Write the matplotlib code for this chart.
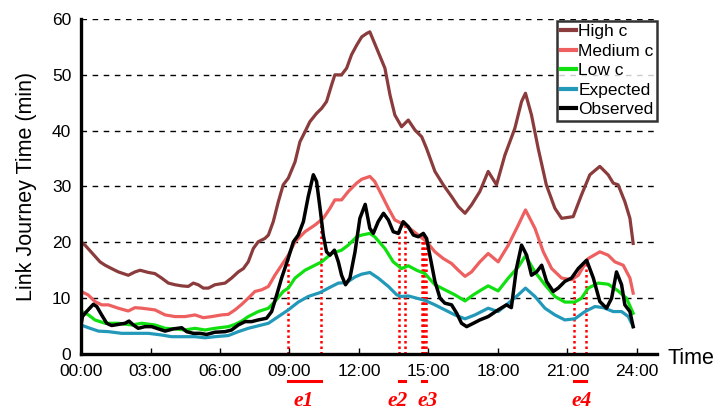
import numpy as np
import matplotlib
matplotlib.use("Agg")
import matplotlib.pyplot as plt

plt.rcParams['font.family'] = ['Liberation Sans', 'DejaVu Sans']

# travel time curves over one day (hour of day, minutes)
high_h = [0.00, 0.17, 0.82, 1.04, 1.32, 1.61, 2.04, 2.33, 2.55, 2.91, 3.19, 3.48, 3.77, 4.06,
          4.35, 4.63, 4.85, 5.06, 5.28, 5.50, 5.78, 6.22, 6.50, 6.79, 7.01, 7.22, 7.44, 7.65,
          7.94, 8.09, 8.30, 8.52, 8.73, 8.95, 9.24, 9.45, 9.67, 9.88, 10.17, 10.39, 10.60,
          10.82, 10.96, 11.25, 11.47, 11.68, 11.90, 12.12, 12.33, 12.47, 12.62, 12.83, 13.12,
          13.34, 13.55, 13.84, 14.13, 14.42, 14.71, 14.92, 15.28, 15.64, 16.00, 16.29, 16.58,
          16.86, 17.22, 17.58, 17.94, 18.30, 18.73, 19.02, 19.19, 19.45, 19.74, 20.09, 20.46,
          20.75, 21.25, 21.61, 21.97, 22.40, 22.76, 22.98, 23.19, 23.48, 23.70, 23.84]
high_c = [20.1, 19.5, 16.5, 15.9, 15.3, 14.7, 14.1, 14.7, 15.0, 14.6, 14.4, 13.6, 12.7, 12.4,
          12.2, 12.1, 12.7, 12.4, 11.8, 11.8, 12.4, 12.7, 13.6, 14.7, 15.3, 16.5, 18.9, 20.1,
          20.7, 21.3, 23.7, 27.3, 30.3, 31.5, 34.4, 38.0, 39.8, 41.6, 43.1, 44.0, 45.2,
          48.2, 50.0, 50.0, 51.2, 53.6, 55.3, 56.8, 57.4, 57.7, 56.2, 54.1, 51.2,
          46.4, 42.8, 40.7, 41.9, 40.1, 38.9, 36.8, 32.7, 30.3, 28.2, 26.4, 25.2,
          26.7, 29.1, 32.7, 30.3, 35.6, 40.4, 45.2, 46.7, 42.8, 36.8, 30.3, 26.1,
          24.3, 24.6, 28.5, 32.1, 33.6, 32.1, 30.6, 30.3, 27.3, 24.3, 19.8]

med_h = [0.00, 0.30, 0.60, 0.89, 1.18, 1.61, 2.04, 2.33, 2.62, 3.19, 3.63, 4.06, 4.49, 4.92,
         5.28, 5.64, 6.07, 6.36, 6.65, 6.94, 7.22, 7.51, 7.80, 8.09, 8.37, 8.66, 8.95, 9.24,
         9.67, 10.10, 10.46, 10.75, 10.96, 11.25, 11.54, 11.90, 12.12, 12.47, 12.68, 12.98,
         13.27, 13.55, 13.84, 14.19, 14.56, 14.92, 15.28, 15.64, 16.00, 16.29, 16.58, 16.86,
         17.22, 17.58, 18.01, 18.45, 18.88, 19.19, 19.60, 19.96, 20.32, 20.75, 21.18, 21.47,
         21.90, 22.40, 22.76, 23.05, 23.41, 23.70, 23.84]
med_c = [11.2, 10.6, 9.4, 8.8, 8.8, 8.2, 7.7, 8.3, 8.2, 7.9, 7.0, 6.7, 6.7, 7.0,
         6.5, 6.7, 7.0, 7.1, 7.9, 8.9, 10.0, 11.2, 11.5, 12.1, 14.1, 15.9, 17.7, 20.1,
         21.9, 23.1, 24.3, 26.1, 27.6, 27.6, 29.1, 30.6, 31.3, 31.8, 30.9, 28.5,
         26.1, 24.0, 23.4, 22.5, 21.3, 20.1, 18.3, 17.1, 16.2, 15.0, 13.9, 14.7,
         16.5, 18.0, 16.5, 19.5, 23.1, 25.8, 22.5, 18.3, 15.3, 13.6, 13.3, 14.1,
         17.1, 18.3, 17.7, 16.5, 15.9, 13.6, 10.9]

low_h = [0.00, 0.32, 0.60, 1.04, 1.61, 2.19, 2.62, 3.19, 3.63, 4.06, 4.49, 4.92, 5.35, 5.78,
         6.36, 6.65, 6.94, 7.22, 7.65, 8.09, 8.37, 8.73, 8.95, 9.24, 9.67, 10.10, 10.39,
         10.82, 11.25, 11.54, 11.90, 12.12, 12.47, 12.68, 13.12, 13.48, 13.84, 14.13, 14.49,
         14.85, 15.28, 15.71, 16.14, 16.58, 16.94, 17.29, 17.58, 18.01, 18.45, 18.88, 19.19,
         19.60, 20.03, 20.46, 20.89, 21.32, 21.61, 21.90, 22.33, 22.76, 23.19, 23.55, 23.84]
low_c = [7.7, 7.0, 6.1, 5.5, 5.5, 5.2, 5.5, 5.2, 4.6, 4.5, 4.3, 4.6, 4.3, 4.6,
         4.9, 5.3, 5.9, 6.7, 7.6, 8.2, 9.4, 11.2, 11.8, 13.6, 15.0, 15.9, 16.5,
         18.0, 18.6, 19.5, 21.0, 21.3, 21.6, 21.0, 18.9, 16.5, 15.3, 15.8, 15.0,
         14.4, 12.4, 11.5, 10.6, 9.5, 10.6, 11.5, 12.2, 11.3, 13.6, 15.6, 17.6,
         14.7, 12.4, 10.3, 9.3, 9.3, 10.0, 11.8, 12.7, 12.5, 11.3, 10.0, 7.3]

exp_h = [0.00, 0.32, 0.75, 1.18, 1.76, 2.33, 2.91, 3.48, 3.91, 4.49, 4.92, 5.35, 5.78, 6.36,
         6.79, 7.22, 7.80, 8.09, 8.52, 8.95, 9.38, 9.81, 10.32, 10.68, 11.11, 11.47, 11.83,
         12.12, 12.47, 12.83, 13.27, 13.63, 13.84, 14.13, 14.49, 14.85, 15.28, 15.71, 16.14,
         16.58, 17.01, 17.58, 18.01, 18.45, 18.88, 19.19, 19.60, 20.03, 20.46, 20.89, 21.32,
         21.76, 22.19, 22.55, 22.98, 23.34, 23.63, 23.84]
expected = [5.2, 4.7, 4.1, 4.0, 3.7, 3.7, 3.7, 3.4, 3.1, 3.1, 3.1, 2.9, 3.1, 3.3,
            4.0, 4.6, 5.2, 5.5, 6.7, 7.9, 9.3, 10.3, 11.0, 11.8, 12.7, 12.8, 13.8,
            14.3, 14.6, 13.6, 12.1, 10.6, 10.3, 10.4, 10.0, 9.6, 8.8, 7.9, 7.0,
            6.3, 7.0, 8.2, 7.6, 9.1, 10.6, 11.8, 10.3, 8.2, 7.0, 6.1, 6.3,
            7.6, 8.5, 8.3, 7.6, 7.6, 6.7, 4.9]

obs_h = [0.00, 0.06, 0.24, 0.53, 0.68, 0.89, 1.11, 1.32, 1.61, 1.90, 2.07, 2.26, 2.47, 2.76,
         3.05, 3.34, 3.63, 3.99, 4.35, 4.56, 4.85, 5.14, 5.42, 5.78, 6.22, 6.50, 6.79, 7.08,
         7.37, 7.65, 8.01, 8.23, 8.45, 8.66, 8.92, 9.17, 9.38, 9.60, 9.81, 10.03, 10.17,
         10.32, 10.46, 10.60, 10.75, 10.94, 11.11, 11.25, 11.42, 11.61, 11.83, 12.04, 12.27,
         12.47, 12.62, 12.83, 13.06, 13.27, 13.48, 13.70, 13.91, 14.13, 14.35, 14.56, 14.78,
         14.92, 15.06, 15.28, 15.50, 15.71, 16.00, 16.22, 16.43, 16.65, 16.94, 17.22, 17.58,
         18.01, 18.37, 18.58, 18.80, 19.02, 19.24, 19.45, 19.67, 19.89, 20.10, 20.39, 20.60,
         20.89, 21.18, 21.47, 21.83, 22.12, 22.40, 22.69, 22.91, 23.12, 23.34, 23.48, 23.70,
         23.84]
observed = [5.2, 6.7, 7.6, 8.9, 8.5, 7.0, 5.5, 5.1, 5.3, 5.5, 5.9, 5.2, 4.6, 4.9,
            4.9, 4.5, 4.1, 4.5, 4.7, 4.0, 3.7, 3.7, 3.5, 3.9, 4.0, 4.3, 5.2, 5.8,
            5.8, 6.1, 6.4, 7.6, 10.6, 13.6, 16.8, 20.1, 21.3, 23.7, 28.2, 32.1, 30.9,
            26.1, 21.3, 18.3, 17.7, 18.6, 16.5, 14.1, 12.4, 13.6, 18.3, 24.3, 26.8,
            22.5, 21.6, 23.7, 25.2, 24.0, 21.9, 21.6, 23.7, 22.8, 21.3, 21.0, 21.6,
            20.7, 17.7, 13.0, 10.0, 9.1, 8.8, 7.3, 5.5, 4.9, 5.5, 6.1, 6.7,
            7.9, 8.8, 8.3, 15.3, 19.5, 17.7, 14.1, 14.7, 15.9, 13.0, 11.2, 11.8,
            13.0, 13.6, 15.3, 16.8, 13.6, 9.4, 8.2, 10.0, 14.7, 12.4, 8.8, 7.6,
            4.9]

# incident windows marked under the axis
event_names = ['e1', 'e2', 'e3', 'e4']
event_times = [[8.92, 10.36], [13.74, 13.99], [14.71, 14.77, 14.83, 14.88], [21.29, 21.80]]
label_hours = [9.6, 13.65, 14.95, 21.6]

tick_hours = [0, 3, 6, 9, 12, 15, 18, 21, 24]
tick_labels = ['%02d:00' % h for h in tick_hours]

fig = plt.figure(figsize=(7.19, 4.11), dpi=100)
ax = fig.add_axes([0.1127, 0.1387, 0.8011, 0.8151])

ax.plot(high_h, high_c, color='#8b3b3b', lw=2.3, label='High c')
ax.plot(med_h, med_c, color='#ee5f5f', lw=2.3, label='Medium c')
ax.plot(low_h, low_c, color='#10e010', lw=2.3, label='Low c')
ax.plot(exp_h, expected, color='#2299b9', lw=2.3, label='Expected')
ax.plot(obs_h, observed, color='black', lw=2.5, label='Observed')

for name, times, lx in zip(event_names, event_times, label_hours):
    for t in times:
        top = np.interp(t, obs_h, observed)
        ax.plot([t, t], [0, top], color='red', lw=1.8, ls=(0, (1, 1.2)), zorder=1)
    ax.plot([times[0], times[-1]], [-4.85, -4.85], color='red', lw=2.2,
            solid_capstyle='projecting', clip_on=False)
    ax.text(lx, -8.5, name, color='red', fontsize=15.5, fontweight='bold', fontstyle='italic',
            family=['Liberation Serif', 'DejaVu Serif'], ha='center', va='center')

ax.set_xlim(0, 24.87)
ax.set_ylim(0, 60)
ax.set_xticks(tick_hours)
ax.set_xticklabels(tick_labels)
ax.set_yticks(range(0, 61, 10))
ax.tick_params(axis='x', direction='in', length=4, width=1, labelsize=12.5, pad=7)
ax.tick_params(axis='y', length=0, labelsize=12.5, pad=7)

for y in range(10, 61, 10):
    ax.axhline(y, color='black', lw=1, ls=(0, (4, 4)), zorder=0)

ax.spines['top'].set_visible(False)
ax.spines['right'].set_visible(False)
ax.spines['left'].set_linewidth(2.4)
ax.spines['bottom'].set_linewidth(2.4)

ax.set_ylabel('Link Journey Time (min)', fontsize=15.5, labelpad=11)
ax.text(1.019, -0.012, 'Time', transform=ax.transAxes, fontsize=15.5, ha='left', va='center')

leg = ax.legend(loc='upper right', bbox_to_anchor=(1.0, 0.995), fontsize=12.5, frameon=True,
                fancybox=False, handlelength=0.9, handletextpad=0.1, labelspacing=0.25,
                borderpad=0.2, borderaxespad=0)
leg.get_frame().set_edgecolor('black')
leg.get_frame().set_linewidth(1.8)
for line in leg.get_lines():
    line.set_linewidth(3)

fig.savefig('out.png', dpi=100)
